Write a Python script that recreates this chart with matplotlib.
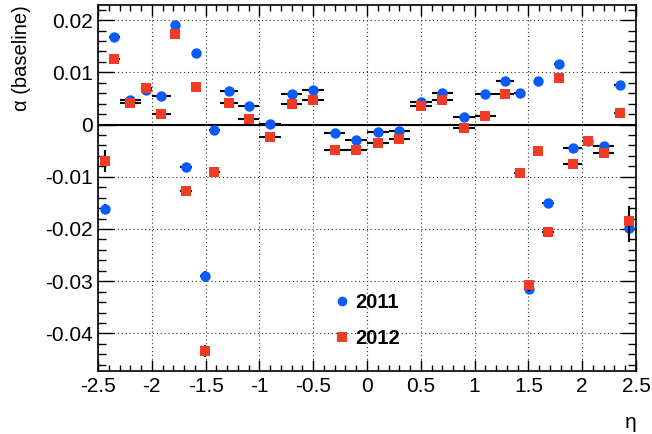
import numpy as np
import matplotlib
matplotlib.use("Agg")
import matplotlib.pyplot as plt
from matplotlib.lines import Line2D
from matplotlib.ticker import MultipleLocator, FixedFormatter, FixedLocator

plt.rcParams['font.family'] = ['Liberation Sans', 'DejaVu Sans']
plt.rcParams['axes.unicode_minus'] = False

# eta bin edges (symmetric binning)
pos_edges = [0.0, 0.2, 0.4, 0.6, 0.8, 1.0, 1.2, 1.37, 1.47, 1.55, 1.63,
             1.74, 1.82, 2.0, 2.1, 2.3, 2.4, 2.47]
edges = np.array([-e for e in pos_edges[::-1]] + pos_edges[1:])
centers = 0.5 * (edges[1:] + edges[:-1])
half_widths = 0.5 * (edges[1:] - edges[:-1])

alpha_2011 = [-0.0161, 0.0167, 0.0048, 0.0066, 0.0054, 0.0191, -0.0081,
              0.0138, -0.0290, -0.0010, 0.0064, 0.0035, 0.0001, 0.0059,
              0.0066, -0.0017, -0.0029,
              -0.0015, -0.0012, 0.0043, 0.0061, 0.0015, 0.0058, 0.0084,
              0.0061, -0.0314, 0.0083, -0.0151, 0.0116, -0.0044, -0.0031,
              -0.0041, 0.0075, -0.0198]
alpha_2012 = [-0.0070, 0.0126, 0.0042, 0.0070, 0.0021, 0.0173, -0.0127,
              0.0071, -0.0434, -0.0090, 0.0041, 0.0011, -0.0023, 0.0040,
              0.0048, -0.0049, -0.0049,
              -0.0035, -0.0027, 0.0035, 0.0048, -0.0006, 0.0017, 0.0058,
              -0.0093, -0.0308, -0.0050, -0.0205, 0.0089, -0.0075, -0.0032,
              -0.0055, 0.0023, -0.0185]
err_2011 = [0.0008, 0.0005, 0.0003, 0.0004, 0.0003, 0.0005, 0.0005,
            0.0005, 0.0010, 0.0006, 0.0003, 0.0003, 0.0003, 0.0003,
            0.0003, 0.0003, 0.0003,
            0.0003, 0.0003, 0.0003, 0.0003, 0.0003, 0.0003, 0.0003,
            0.0006, 0.0010, 0.0005, 0.0005, 0.0005, 0.0003, 0.0004,
            0.0003, 0.0005, 0.0026]
err_2012 = [0.0021, 0.0005, 0.0003, 0.0004, 0.0003, 0.0005, 0.0005,
            0.0005, 0.0011, 0.0006, 0.0003, 0.0003, 0.0003, 0.0003,
            0.0003, 0.0003, 0.0003,
            0.0003, 0.0003, 0.0003, 0.0003, 0.0003, 0.0003, 0.0003,
            0.0006, 0.0011, 0.0005, 0.0005, 0.0005, 0.0003, 0.0004,
            0.0003, 0.0005, 0.0029]

x_ticks = [-2.5, -2, -1.5, -1, -0.5, 0, 0.5, 1, 1.5, 2, 2.5]
x_tick_labels = ['-2.5', '-2', '-1.5', '-1', '-0.5', '0', '0.5', '1', '1.5', '2', '2.5']
y_ticks = [-0.04, -0.03, -0.02, -0.01, 0, 0.01, 0.02]
y_tick_labels = ['-0.04', '-0.03', '-0.02', '-0.01', '0', '0.01', '0.02']

blue = '#0a5bff'
red = '#f03c24'

fig = plt.figure(figsize=(6.52, 4.34), dpi=100)
W, H = 652, 434
ax = fig.add_axes([98 / W, 1 - 371 / H, (636 - 98) / W, (371 - 5) / H])

ax.set_xlim(-2.5, 2.5)
ax.set_ylim(-0.0472, 0.0229)

ax.grid(True, which='major', color='#333333', linestyle=(0, (1, 2.5)), linewidth=0.8)
ax.set_axisbelow(True)
ax.axhline(0, color='black', linewidth=1.5, zorder=2)

ax.errorbar(centers, alpha_2011, xerr=half_widths, yerr=err_2011, fmt='o',
            color=blue, markersize=7.5, markeredgewidth=0, ecolor='black',
            elinewidth=1.5, capsize=0, zorder=3)
ax.errorbar(centers, alpha_2012, xerr=half_widths, yerr=err_2012, fmt='s',
            color=red, markersize=7.2, markeredgewidth=0, ecolor='black',
            elinewidth=1.5, capsize=0, zorder=4)

ax.xaxis.set_major_locator(FixedLocator(x_ticks))
ax.xaxis.set_major_formatter(FixedFormatter(x_tick_labels))
ax.xaxis.set_minor_locator(MultipleLocator(0.1))
ax.yaxis.set_major_locator(FixedLocator(y_ticks))
ax.yaxis.set_major_formatter(FixedFormatter(y_tick_labels))
ax.yaxis.set_minor_locator(MultipleLocator(0.002))

ax.tick_params(which='both', direction='in', top=True, right=True, color='black',
               width=1.0)
ax.tick_params(axis='x', which='major', length=7.9, labelsize=15, pad=4.5)
ax.tick_params(axis='x', which='minor', length=4.0)
ax.tick_params(axis='y', which='major', length=11.5, labelsize=15, pad=3.6)
ax.tick_params(axis='y', which='minor', length=5.8)
for s in ax.spines.values():
    s.set_linewidth(1.2)

fig.text(22 / W, 1 - 5 / H, 'α (baseline)', rotation=90, ha='center', va='top',
         fontsize=14.5)
fig.text(637 / W, 1 - 423 / H, 'η', ha='right', va='center', fontsize=15)

handles = [Line2D([], [], marker='o', linestyle='none', color=blue,
                  markersize=7, markeredgewidth=0),
           Line2D([], [], marker='s', linestyle='none', color=red,
                  markersize=7, markeredgewidth=0)]
fig.legend(handles, ['2011', '2012'], loc='upper left',
           bbox_to_anchor=(334 / W, 1 - 293.5 / H), frameon=False,
           prop={'weight': 'bold', 'size': 14.5}, handlelength=0.8,
           handletextpad=0.25, labelspacing=0.82, borderpad=0,
           borderaxespad=0)

fig.savefig('out.png', dpi=100)
